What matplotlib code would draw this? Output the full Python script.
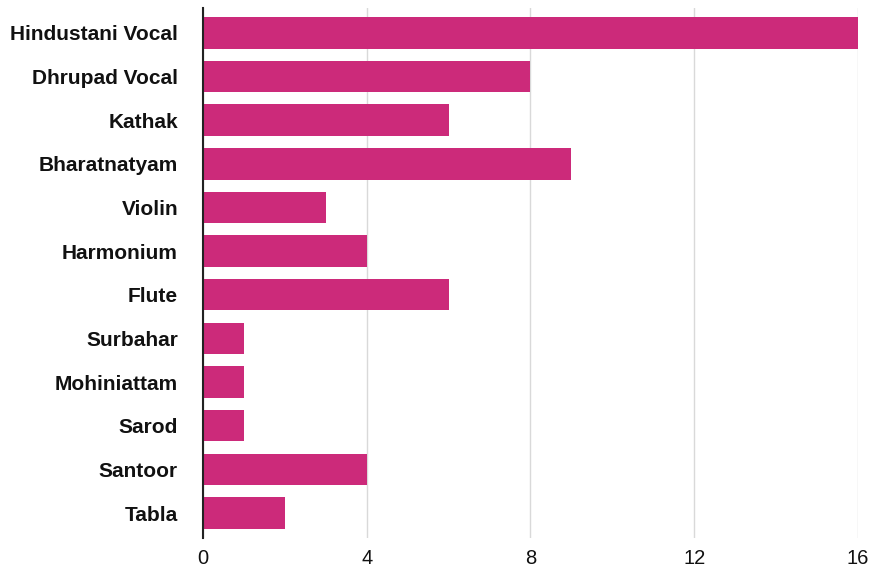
import matplotlib
matplotlib.use("Agg")
from matplotlib import pyplot as plt

categories = ["Hindustani Vocal", "Dhrupad Vocal", "Kathak", "Bharatnatyam", "Violin",
              "Harmonium", "Flute", "Surbahar", "Mohiniattam", "Sarod", "Santoor", "Tabla"]
values = [16, 8, 6, 9, 3, 4, 6, 1, 1, 1, 4, 2]
xticks = [0, 4, 8, 12, 16]

plt.rcParams['font.family'] = ['Liberation Sans', 'DejaVu Sans']

fig = plt.figure(figsize=(8.69, 5.71), dpi=100)
ax = fig.add_axes([0.2336, 0.058, 0.7537, 0.928])

pos = list(range(len(categories)))
ax.barh(pos, values, height=0.72, color="#CC2A7A", zorder=3)

ax.set_ylim(len(categories) - 0.43, -0.57)
ax.set_xlim(0, 16)
ax.set_xticks(xticks)
ax.set_yticks(pos)
ax.set_yticklabels(categories, fontweight="bold", fontsize=15, color="#111111")
ax.tick_params(axis="x", labelsize=14.5, length=0, pad=8, colors="#111111")
ax.tick_params(axis="y", length=0, pad=18)

ax.grid(axis="x", color="#d9d9d9", linewidth=1, zorder=0)
for s in ["top", "right", "bottom"]:
    ax.spines[s].set_visible(False)
ax.spines["left"].set_color("#222222")
ax.spines["left"].set_linewidth(1.5)
ax.spines["left"].set_zorder(4)

fig.savefig("out.png", dpi=100)
